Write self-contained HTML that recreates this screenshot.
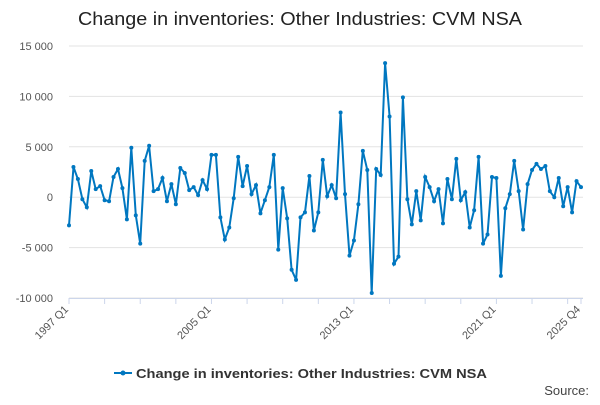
<!DOCTYPE html>
<html><head><meta charset="utf-8"><style>
body{margin:0;width:600px;height:400px;background:#fff;font-family:"Liberation Sans",sans-serif;overflow:hidden}
</style></head><body>
<svg id="chart" width="600" height="400" xmlns="http://www.w3.org/2000/svg" font-family="Liberation Sans, sans-serif">
<text x="300" y="25" text-anchor="middle" font-size="18" fill="#222" textLength="444" lengthAdjust="spacingAndGlyphs">Change in inventories: Other Industries: CVM NSA</text>
<g id="grid"></g><g id="xaxis"></g><g id="series"></g>
<g>
<line x1="114" y1="373" x2="132" y2="373" stroke="#0077c0" stroke-width="2"/>
<circle cx="123" cy="373" r="2.5" fill="#0077c0"/>
<text x="136" y="378" font-size="13" font-weight="bold" fill="#333" textLength="351" lengthAdjust="spacingAndGlyphs">Change in inventories: Other Industries: CVM NSA</text>
</g>
<text x="589" y="395" text-anchor="end" font-size="13" fill="#444">Source:</text>
</svg>
<script>
const yTicks=[15000,10000,5000,0,-5000,-10000];
const yTickLabels=["15 000","10 000","5 000","0","-5 000","-10 000"];
const xLabels=["1997 Q1","2005 Q1","2013 Q1","2021 Q1","2025 Q4"];
const xLabelIdx=[0,32,64,96,115];
const values=[-2.8,3.0,1.8,-0.2,-1.0,2.6,0.8,1.1,-0.3,-0.4,2.0,2.8,0.9,-2.2,4.9,-1.8,-4.6,3.6,5.1,0.6,0.8,1.9,-0.4,1.3,-0.7,2.9,2.4,0.7,1.0,0.2,1.7,0.8,4.2,4.2,-2.0,-4.2,-3.0,-0.1,4.0,1.1,3.1,0.3,1.2,-1.6,-0.3,1.0,4.2,-5.2,0.9,-2.1,-7.2,-8.2,-2.0,-1.5,2.1,-3.3,-1.5,3.7,0.1,1.2,-0.1,8.4,0.3,-5.8,-4.3,-0.7,4.6,2.7,-9.5,2.8,2.2,13.3,8.0,-6.6,-5.9,9.9,-0.2,-2.7,0.6,-2.3,2.0,1.0,-0.4,0.8,-2.6,1.8,-0.2,3.8,-0.3,0.5,-3.0,-1.3,4.0,-4.6,-3.7,2.0,1.9,-7.8,-1.1,0.3,3.6,0.6,-3.2,1.3,2.7,3.3,2.8,3.1,0.6,0.0,1.9,-0.9,1.0,-1.5,1.6,1.0].map(v=>v*1000);
const NS="http://www.w3.org/2000/svg";
const x0=69,x1=581,yTop=46,yBot=298;
const xs=i=>x0+(x1-x0)*i/(values.length-1);
const ys=v=>yTop+(15000-v)/25000*(yBot-yTop);
function mk(t,a,p){const e=document.createElementNS(NS,t);for(const k in a)e.setAttribute(k,a[k]);p.appendChild(e);return e;}
const grid=document.getElementById('grid');
yTicks.forEach((t,i)=>{
 const l=mk('line',{x1:x0,x2:x1+2,y1:ys(t),y2:ys(t),stroke:'#e3e3e3','stroke-width':1},grid);
 
 
 const tx=mk('text',{x:53,y:ys(t)+4,'text-anchor':'end','font-size':11,fill:'#555'},grid);
 tx.textContent=yTickLabels[i];
 
 
});
const xa=document.getElementById('xaxis');
mk('line',{x1:x0,x2:x1+2,y1:yBot+0.5,y2:yBot+0.5,stroke:'#ccd6eb'},xa);
for(let i=0;i<values.length;i+=8){mk('line',{x1:xs(i),x2:xs(i),y1:yBot,y2:yBot+6,stroke:'#ccd6eb'},xa);}
mk('line',{x1:xs(115),x2:xs(115),y1:yBot,y2:yBot+6,stroke:'#ccd6eb'},xa);
xLabels.forEach((s,k)=>{
 const x=xs(xLabelIdx[k]),y=yBot+12;
 const t=mk('text',{x:x,y:y,'text-anchor':'end','font-size':11,fill:'#555',transform:`rotate(-45 ${x} ${y})`},xa);
 t.textContent=s;
 
 
});
const g=document.getElementById('series');
const p=mk('path',{d:values.map((v,i)=>(i?'L':'M')+xs(i).toFixed(1)+' '+ys(v).toFixed(1)).join(''),fill:'none',stroke:'#0077c0','stroke-width':2},g);


values.forEach((v,i)=>{
 const c=mk('circle',{cx:xs(i),cy:ys(v),r:2,fill:'#0077c0'},g);
 
 
});
</script>
</body></html>
